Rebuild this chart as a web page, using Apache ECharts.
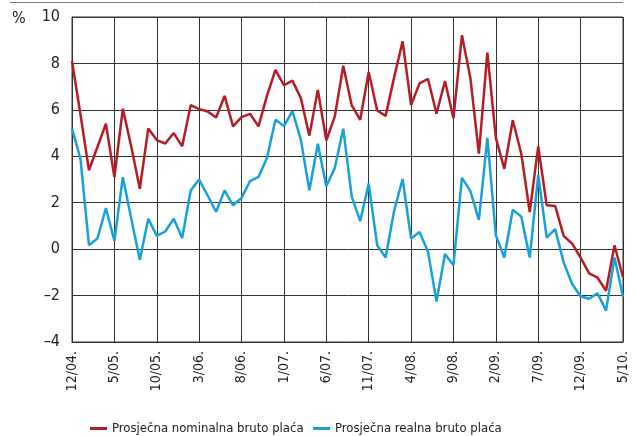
<!DOCTYPE html>
<html>
<head>
<meta charset="utf-8">
<script src="https://cdn.jsdelivr.net/npm/echarts@6/dist/echarts.min.js"></script>
<style>
	html, body { margin:0; padding:0; background:#fff; }
	#chart { width:636px; height:436px; }
</style>
</head>
<body>
<div id="chart"></div>
<script>
// mjeseci 12/2004 - 5/2010
var months = [
	'12/04.','1/05.','2/05.','3/05.','4/05.','5/05.','6/05.','7/05.','8/05.','9/05.','10/05.','11/05.','12/05.',
	'1/06.','2/06.','3/06.','4/06.','5/06.','6/06.','7/06.','8/06.','9/06.','10/06.','11/06.','12/06.',
	'1/07.','2/07.','3/07.','4/07.','5/07.','6/07.','7/07.','8/07.','9/07.','10/07.','11/07.','12/07.',
	'1/08.','2/08.','3/08.','4/08.','5/08.','6/08.','7/08.','8/08.','9/08.','10/08.','11/08.','12/08.',
	'1/09.','2/09.','3/09.','4/09.','5/09.','6/09.','7/09.','8/09.','9/09.','10/09.','11/09.','12/09.',
	'1/10.','2/10.','3/10.','4/10.','5/10.'
];

var nominal = [
	8.1, 5.8, 3.4, 4.4, 5.4, 3.1, 6.05, 4.4, 2.6, 5.2, 4.7, 4.55, 5.0,
	4.43, 6.2, 6.03, 5.93, 5.67, 6.6, 5.29, 5.69, 5.83, 5.29, 6.6, 7.72,
	7.06, 7.26, 6.5, 4.89, 6.86, 4.69, 5.71, 7.9, 6.19, 5.57, 7.63, 5.97,
	5.74, 7.4, 8.95, 6.21, 7.14, 7.33, 5.83, 7.24, 5.64, 9.21, 7.36, 4.11,
	8.47, 4.79, 3.46, 5.55, 4.11, 1.6, 4.43, 1.89, 1.86, 0.57, 0.24, -0.36,
	-1.04, -1.23, -1.79, 0.17, -1.21
];

var real = [
	5.19, 3.89, 0.17, 0.46, 1.77, 0.36, 3.1, 1.3, -0.46, 1.31, 0.57, 0.76, 1.31,
	0.48, 2.53, 3.0, 2.31, 1.61, 2.53, 1.89, 2.21, 2.93, 3.11, 3.93, 5.57,
	5.3, 5.95, 4.71, 2.53, 4.54, 2.71, 3.5, 5.19, 2.26, 1.21, 2.83, 0.17,
	-0.36, 1.65, 3.02, 0.46, 0.74, -0.11, -2.26, -0.21, -0.69, 3.07, 2.5, 1.26,
	4.79, 0.6, -0.36, 1.7, 1.4, -0.36, 3.19, 0.5, 0.86, -0.57, -1.5, -2.03,
	-2.14, -1.9, -2.65, -0.36, -2.05
];

var yTicks = [-4, -2, 0, 2, 4, 6, 8, 10];
var seriesNames = ['Prosječna nominalna bruto plaća', 'Prosječna realna bruto plaća'];

var fontFam = '"DejaVu Sans Condensed", "Liberation Sans", sans-serif';

function legendAt(left, name){
	return {
		top: 417,
		left: left,
		itemWidth: 17,
		itemHeight: 3,
		itemTextGap: 6,
		icon: 'rect',
		textStyle: { fontSize: 13, color: '#222', fontFamily: fontFam },
		data: [name]
	};
}

function drawChart(){
	var chart = echarts.init(document.getElementById('chart'));
	var option = {
		animation: false,
		textStyle: { fontFamily: fontFam },
		grid: {
			left: 72, right: 13, top: 17, bottom: 94,
			show: true, borderColor: '#333', borderWidth: 1
		},
		legend: [
			legendAt(85, seriesNames[0]),
			legendAt(308, seriesNames[1])
		],
		xAxis: {
			type: 'category',
			data: months,
			boundaryGap: false,
			axisLine: { onZero: false, lineStyle: { color: '#333' } },
			axisTick: { show: false },
			axisLabel: {
				rotate: 90,
				interval: 4,
				fontSize: 14,
				color: '#222',
				margin: 9,
				fontFamily: fontFam
			},
			splitLine: { show: true, interval: 4, lineStyle: { color: '#333', width: 1 } }
		},
		yAxis: {
			type: 'value',
			min: yTicks[0],
			max: yTicks[yTicks.length - 1],
			interval: 2,
			axisLine: { show: true, lineStyle: { color: '#333' } },
			axisTick: { show: false },
			axisLabel: {
				fontSize: 16,
				color: '#222',
				margin: 12,
				fontFamily: fontFam,
				formatter: function(v){ return v < 0 ? '\u2013' + Math.abs(v) : '' + v; }
			},
			splitLine: { show: true, lineStyle: { color: '#333', width: 1 } }
		},
		graphic: [
			{ type: 'line', shape: { x1: 10, y1: 2.5, x2: 623, y2: 2.5 }, style: { stroke: '#777', lineWidth: 1 } },
			{ type: 'text', left: 12, top: 11, style: { text: '%', fontSize: 16, fill: '#222', fontFamily: fontFam } }
		],
		series: [
			{
				name: seriesNames[0],
				type: 'line',
				data: nominal,
				symbol: 'none',
				color: '#b71c24',
				lineStyle: { width: 2.5, color: '#b71c24' }
			},
			{
				name: seriesNames[1],
				type: 'line',
				data: real,
				symbol: 'none',
				color: '#17a1da',
				lineStyle: { width: 2.5, color: '#17a1da' }
			}
		]
	};
	chart.setOption(option);
}

drawChart();
</script>
</body>
</html>
